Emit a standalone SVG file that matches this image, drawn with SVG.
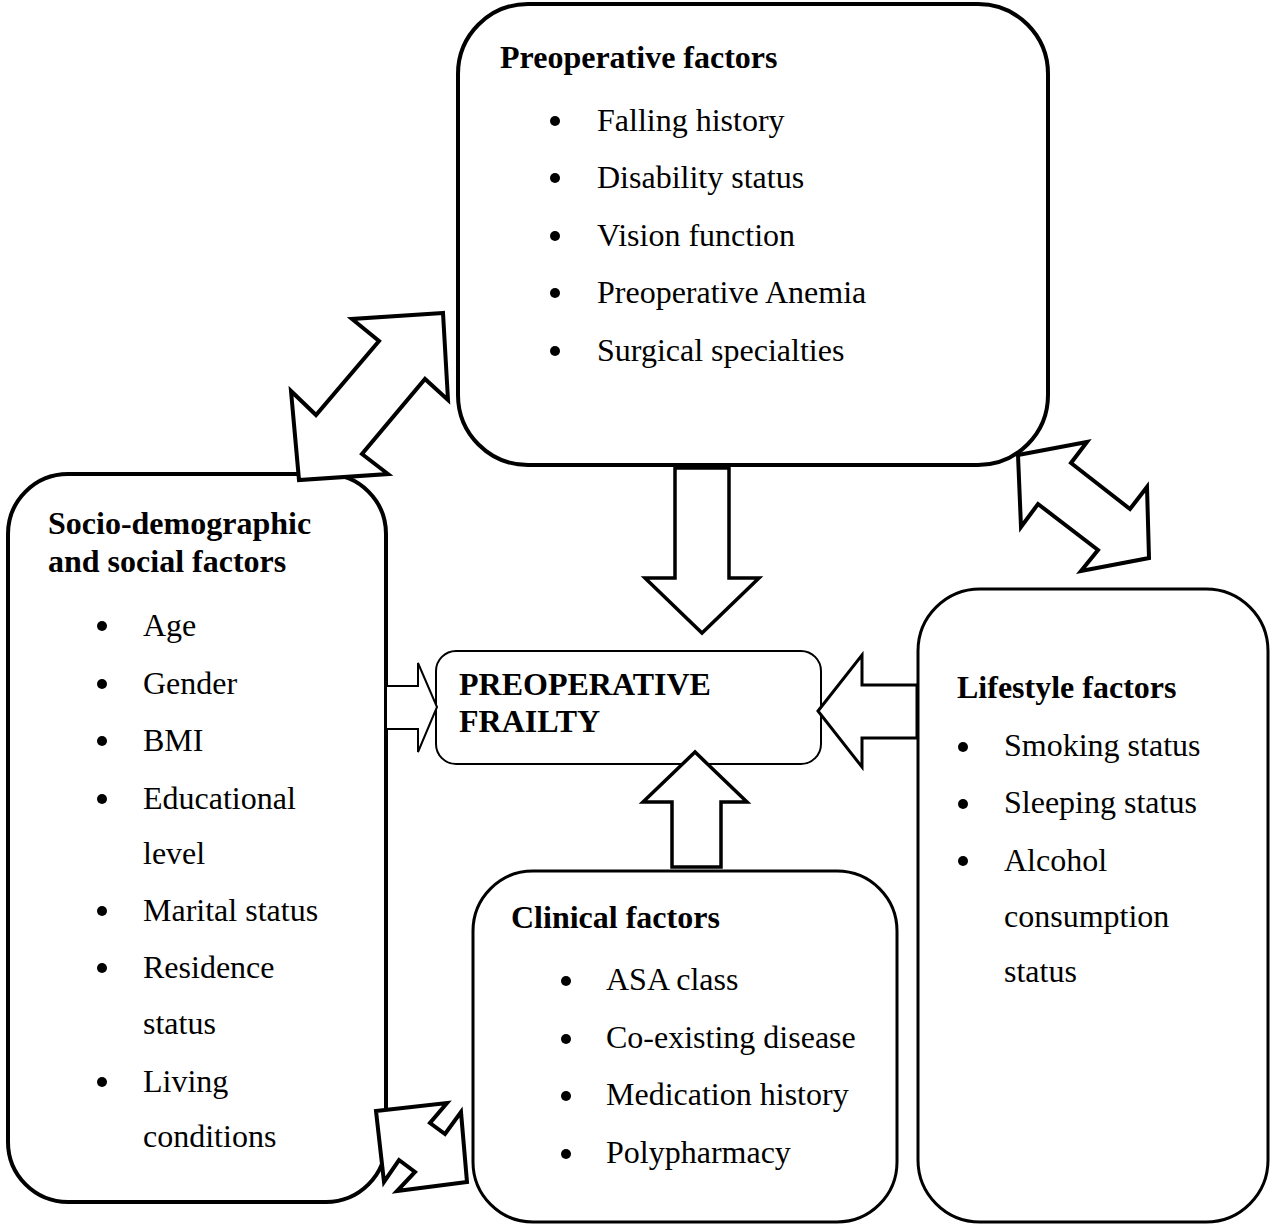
<svg xmlns="http://www.w3.org/2000/svg" width="1272" height="1226" viewBox="0 0 1272 1226">
<style>
.box{fill:#fff;stroke:#000}
.arr{fill:#fff;stroke:#000;stroke-linejoin:miter}
.h{font-family:"Liberation Serif","Times New Roman",serif;font-size:32px;font-weight:bold;fill:#000}
.t{font-family:"Liberation Serif","Times New Roman",serif;font-size:32px;fill:#000}
</style>
<rect width="1272" height="1226" fill="#fff"/>
<g id="preoperative-factors">
<rect class="box" x="458" y="4" width="590" height="461" rx="70" ry="70" stroke-width="4"/>
<text class="h" x="500" y="68">Preoperative factors</text>
<g class="t">
<circle cx="555" cy="121" r="5"/><text x="597" y="131">Falling history</text>
<circle cx="555" cy="178" r="5"/><text x="597" y="188">Disability status</text>
<circle cx="555" cy="236" r="5"/><text x="597" y="246">Vision function</text>
<circle cx="555" cy="293" r="5"/><text x="597" y="303">Preoperative Anemia</text>
<circle cx="555" cy="351" r="5"/><text x="597" y="361">Surgical specialties</text>
</g>
</g>
<g id="socio-demographic-factors">
<rect class="box" x="8" y="474" width="378" height="728" rx="60" ry="60" stroke-width="4"/>
<text class="h" x="48" y="534">Socio-demographic</text>
<text class="h" x="48" y="572">and social factors</text>
<g class="t">
<circle cx="102" cy="626" r="5"/><text x="143" y="636">Age</text>
<circle cx="102" cy="684" r="5"/><text x="143" y="694">Gender</text>
<circle cx="102" cy="741" r="5"/><text x="143" y="751">BMI</text>
<circle cx="102" cy="799" r="5"/><text x="143" y="809">Educational</text>
<text x="143" y="864">level</text>
<circle cx="102" cy="911" r="5"/><text x="143" y="921">Marital status</text>
<circle cx="102" cy="968" r="5"/><text x="143" y="978">Residence</text>
<text x="143" y="1034">status</text>
<circle cx="102" cy="1082" r="5"/><text x="143" y="1092">Living</text>
<text x="143" y="1147">conditions</text>
</g>
</g>
<g id="preoperative-frailty">
<rect class="box" x="436" y="651" width="385" height="113" rx="20" ry="20" stroke-width="2"/>
<text class="h" x="459" y="695">PREOPERATIVE</text>
<text class="h" x="459" y="732">FRAILTY</text>
</g>
<g id="lifestyle-factors">
<rect class="box" x="918" y="589" width="350" height="633" rx="62" ry="62" stroke-width="3"/>
<text class="h" x="957" y="698">Lifestyle factors</text>
<g class="t">
<circle cx="963" cy="747" r="5"/><text x="1004" y="756">Smoking status</text>
<circle cx="963" cy="804" r="5"/><text x="1004" y="813">Sleeping status</text>
<circle cx="963" cy="861" r="5"/><text x="1004" y="871">Alcohol</text>
<text x="1004" y="927">consumption</text>
<text x="1004" y="982">status</text>
</g>
</g>
<g id="clinical-factors">
<rect class="box" x="473" y="871" width="424" height="351" rx="60" ry="60" stroke-width="3"/>
<text class="h" x="511" y="928">Clinical factors</text>
<g class="t">
<circle cx="566" cy="981" r="5"/><text x="606" y="990">ASA class</text>
<circle cx="566" cy="1039" r="5"/><text x="606" y="1048">Co-existing disease</text>
<circle cx="566" cy="1096" r="5"/><text x="606" y="1105">Medication history</text>
<circle cx="566" cy="1154" r="5"/><text x="606" y="1163">Polypharmacy</text>
</g>
</g>
<g id="connectors">
<polygon class="arr" stroke-width="4" points="443,313 352,319 379,341 316,415 291,391 299,480 388,474 362,454 425,379 448,400"/>
<polygon class="arr" stroke-width="4" points="1018,455 1087,442 1071,463 1130,509 1147,487 1149,558 1081,571 1098,550 1038,504 1021,527"/>
<polygon class="arr" stroke-width="4" points="376,1111 447,1103 430,1123 445,1134 461,1112 467,1182 397,1191 415,1172 399,1160 384,1182"/>
<polygon class="arr" stroke-width="3.5" points="675,468 729,468 729,578 759,578 702,633 645,578 675,578"/>
<polygon class="arr" stroke-width="3" points="818,711 862,655 862,685 917,685 917,738 862,738 862,767"/>
<polygon class="arr" stroke-width="2" points="386,686 418,686 418,663 437,707 418,752 418,729 386,729"/>
<polygon class="arr" stroke-width="3.5" points="695,752 643,802 672,802 672,867 721,867 721,802 747,802"/>
</g>
</svg>
